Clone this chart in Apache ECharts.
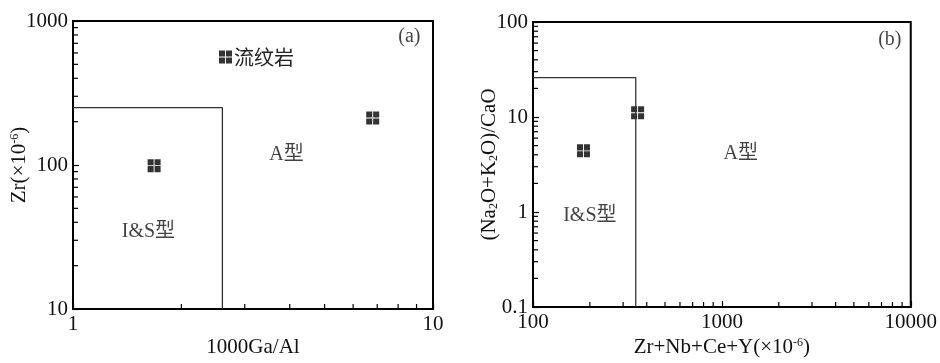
<!DOCTYPE html>
<html><head><meta charset="utf-8">
<script src="https://cdn.jsdelivr.net/npm/echarts@6/dist/echarts.min.js"></script>
<style>html,body{margin:0;padding:0;background:#fff}#c{width:940px;height:363px}</style>
</head><body><div id="c"></div>
<script>
// ---- data ----
const seriesName = '流纹岩';
const ptsA = [[1.68, 99], [6.8, 212]];            // 1000Ga/Al vs Zr
const ptsB = [[185, 4.4], [358, 11.1]];           // Zr+Nb+Ce+Y vs (Na2O+K2O)/CaO
const boundaryA = [[1, 250], [2.6, 250], [2.6, 10]];
const boundaryB = [[100, 26], [350, 26], [350, 0.1]];
const xMinorA = [2, 3, 4, 5, 6, 7, 8, 9];
const yMinorA = [20, 30, 40, 50, 60, 70, 80, 90, 200, 300, 400, 500, 600, 700, 800, 900];
const xMinorB = [200, 300, 400, 500, 600, 700, 800, 900, 2000, 3000, 4000, 5000, 6000, 7000, 8000, 9000];
const yMinorB = [0.2, 0.3, 0.4, 0.5, 0.6, 0.7, 0.8, 0.9, 2, 3, 4, 5, 6, 7, 8, 9, 20, 30, 40, 50, 60, 70, 80, 90];
const textA = [['A型', 3.92, 117], ['I&S型', 1.62, 34.3], ['(a)', 8.6, 774]];
const textB = [['A型', 1259, 4.06], ['I&S型', 200, 0.92], ['(b)', 7745, 65.3]];
const extA = {x: [1, 10], y: [10, 1000]};
const extB = {x: [100, 10000], y: [0.1, 100]};

// ---- chart ----
const SERIF = '"Liberation Serif","Times New Roman","Noto Sans CJK SC",serif';
const SYM = 'path://M0,0H9.3V9.3H0Z M10.7,0H20V9.3H10.7Z M0,10.7H9.3V20H0Z M10.7,10.7H20V20H10.7Z';
const FS = 21;
const labelStyle = {fontFamily: SERIF, fontSize: FS, color: '#111'};
const fmt = v => String(+(+v).toPrecision(6));

function axis(gridIndex, ext, extra) {
  return Object.assign({
    type: 'log', logBase: 10, gridIndex, min: ext[0], max: ext[1],
    axisLine: {lineStyle: {color: '#000', width: 2}},
    axisTick: {inside: true, length: 6, lineStyle: {color: '#000', width: 1.2}},
    axisLabel: Object.assign({margin: 5, formatter: fmt}, labelStyle),
    splitLine: {show: false},
    nameLocation: 'middle',
    nameMoveOverlap: false,
    nameTextStyle: labelStyle
  }, extra);
}

function richName(kind) {
  return Object.assign({}, labelStyle, {rich: {
    n: {fontFamily: SERIF, fontSize: FS, color: '#111'},
    s: kind === 'sup'
      ? {fontFamily: SERIF, fontSize: 12, color: '#111', verticalAlign: 'top', padding: [0, 0, 8, 0]}
      : {fontFamily: SERIF, fontSize: 12, color: '#111', verticalAlign: 'bottom', padding: [8, 0, 0, 0]}
  }});
}

function minorSeries(xi, yi, dim, vals, fixed) {
  const data = vals.map(v => dim === 'x' ? [v, fixed] : [fixed, v]);
  return {
    type: 'custom', xAxisIndex: xi, yAxisIndex: yi, silent: true, data,
    renderItem: (p, api) => {
      const c = api.coord([api.value(0), api.value(1)]);
      const s = dim === 'x'
        ? {x1: c[0], y1: c[1], x2: c[0], y2: c[1] - 5}
        : {x1: c[0], y1: c[1], x2: c[0] + 5, y2: c[1]};
      return {type: 'line', shape: s, style: {stroke: '#000', lineWidth: 1.2}};
    }
  };
}

function textSeries(xi, yi, arr) {
  return {
    type: 'scatter', xAxisIndex: xi, yAxisIndex: yi, symbolSize: 0, silent: true,
    data: arr.map(t => ({value: [t[1], t[2]], name: t[0]})),
    label: {show: true, position: 'inside', formatter: p => p.name,
      fontFamily: SERIF, fontSize: 20, color: '#111'}
  };
}

const chart = echarts.init(document.getElementById('c'));
chart.setOption({
  animation: false,
  backgroundColor: '#fff',
  legend: {
    data: [seriesName], left: 214, top: 42, itemWidth: 13, itemHeight: 13, itemGap: 4,
    textStyle: {fontFamily: '"Noto Sans CJK SC",sans-serif', fontSize: 20, color: '#222', padding: [0, 0, 0, -3]}
  },
  grid: [
    {left: 73, top: 21, width: 360, height: 292, show: true, borderColor: '#000', borderWidth: 2},
    {left: 533, top: 22, width: 380, height: 287, show: true, borderColor: '#000', borderWidth: 2}
  ],
  xAxis: [
    axis(0, extA.x, {name: '1000Ga/Al', nameGap: 28}),
    axis(1, extB.x, {name: '{n|Zr+Nb+Ce+Y(×10}{s|-6}{n|)}', nameGap: 30, nameTextStyle: richName('sup')})
  ],
  yAxis: [
    axis(0, extA.y, {name: '{n|Zr(×10}{s|-6}{n|)}', nameGap: 43, nameTextStyle: richName('sup')}),
    axis(1, extB.y, {name: '{n|(Na}{s|2}{n|O+K}{s|2}{n|O)/CaO}', nameGap: 33, nameTextStyle: richName('sub')})
  ],
  series: [
    {type: 'line', xAxisIndex: 0, yAxisIndex: 0, data: boundaryA, symbol: 'none', silent: true,
      lineStyle: {color: '#333', width: 1.3}},
    {type: 'line', xAxisIndex: 1, yAxisIndex: 1, data: boundaryB, symbol: 'none', silent: true,
      lineStyle: {color: '#333', width: 1.3}},
    minorSeries(0, 0, 'x', xMinorA, extA.y[0]),
    minorSeries(0, 0, 'y', yMinorA, extA.x[0]),
    minorSeries(1, 1, 'x', xMinorB, extB.y[0]),
    minorSeries(1, 1, 'y', yMinorB, extB.x[0]),
    textSeries(0, 0, textA),
    textSeries(1, 1, textB),
    {name: seriesName, type: 'scatter', xAxisIndex: 0, yAxisIndex: 0, data: ptsA,
      symbol: SYM, symbolSize: 13, itemStyle: {color: '#000'}},
    {name: seriesName, type: 'scatter', xAxisIndex: 1, yAxisIndex: 1, data: ptsB,
      symbol: SYM, symbolSize: 13, itemStyle: {color: '#000'}}
  ]
});
</script></body></html>
